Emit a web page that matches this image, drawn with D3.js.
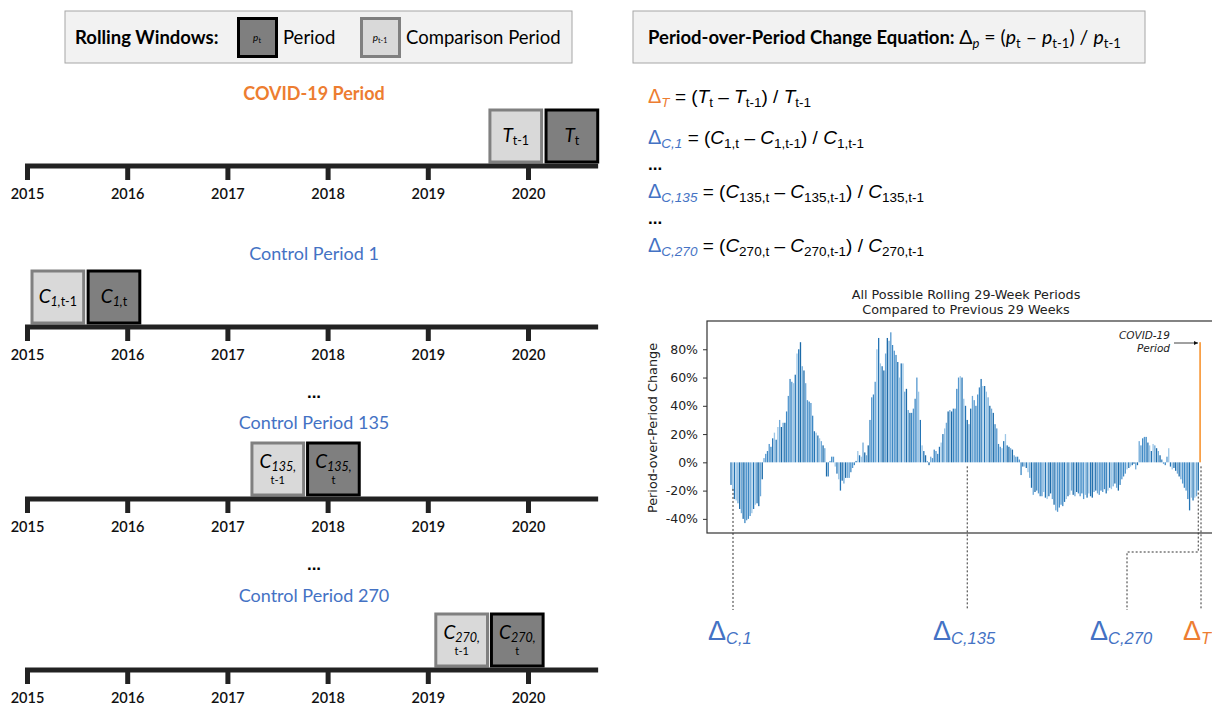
<!DOCTYPE html>
<html>
<head>
<meta charset="utf-8">
<script src="https://cdn.jsdelivr.net/npm/d3@7"></script>
<style>
body { margin: 0; background: #fff; }
svg { display: block; }
text { white-space: pre; }
</style>
</head>
<body>
<script>
// timeline panels
var years = [2015, 2016, 2017, 2018, 2019, 2020];
var panelTitles = ["COVID-19 Period", "Control Period 1", "Control Period 135", "Control Period 270"];
var compStarts = [2019.60, 2015.03, 2017.225, 2019.06];
var periodStarts = [2020.16, 2015.59, 2017.78, 2019.615];
var windowYears = 29 / 52.18;
var boxIdx = ["", "1,", "135,", "270,"];
var boxSym = ["T", "C", "C", "C"];

// period-over-period change (%), one per control period
var periodChange = [
  -16,-20,-26,-27,-29,-33,-36,-40,-43,-41,-40,-38,-36,-33,-30,-29,-31,-24,-12,
  3,
  6,8,13,11,17,21,16,25,30,25,28,28,36,47,59,57,56,62,77,80,85,68,65,56,44,43,42,33,22,21,19,17,15,12,10,
  -10,-10,1,4,4,-3,-8,-12,-20,-13,-15,-11,-11,-11,-7,-4,-2,1,8,5,4,14,7,5,12,30,
  46,48,57,80,88,70,68,65,77,88,86,92,83,79,76,71,60,70,70,50,52,37,35,35,38,45,60,50,30,12,8,5,1,-2,4,3,9,8,6,11,14,20,24,28,36,37,36,38,
  38,52,60,61,60,45,40,30,27,38,47,44,40,48,53,59,54,54,50,46,40,38,35,27,24,13,11,10,15,20,12,11,10,9,5,4,4,2,
  -9,-3,-3,-4,-7,-11,-18,-23,-21,-20,-22,-24,-24,-21,-25,-26,-24,-22,-26,-30,-34,-35,-32,-30,-31,-28,-26,-24,-23,-20,-23,-24,-21,-22,
  -24,-22,-26,-23,-25,-22,-24,-25,
  -21,-20,-22,-23,-20,-21,-19,-22,-20,
  -18,-19,-17,-15,-18,-20,
  -16,-12,-10,-8,-5,-4,-3,-2,
  -1,-5,-2,
  15,12,17,18,18,14,12,8,13,12,10,8,5,2,-1,-2,4,10,
  -3,-5,-4,-6,-8,-10,-12,-15,-18,-20,-26,-34,-25,-27,-25,-24,-20
];
var covidChange = 85;
var yTicks = [-40, -20, 0, 20, 40, 60, 80];
var markLabels = ["C,1", "C,135", "C,270", "T"];

var orange = "#ed7d31", blue = "#4472c4";
var blues = ["#2474b5", "#6fa9d8", "#3d88c4", "#9cc6e6", "#1c6aa8", "#5598cf"];
var calibri = "Lato, 'Open Sans', sans-serif";
var arial = "'Liberation Sans', Arial, sans-serif";
var dejavu = "'DejaVu Sans', sans-serif";

var svg = d3.select("body").append("svg").attr("width", 1212).attr("height", 708);

// text with subscript pieces
function rich(g, x, y, parts, anchor, family) {
  var t = g.append("text").attr("x", x).attr("y", y)
    .attr("text-anchor", anchor || "start").style("font-family", family);
  var shift = 0;
  parts.forEach(function (p) {
    var s = p.sh || 0;
    t.append("tspan").attr("dy", s - shift)
      .style("font-size", p.s + "px")
      .style("font-style", p.i ? "italic" : "normal")
      .style("font-weight", p.b ? "bold" : "normal")
      .style("fill", p.c || "#000")
      .text(p.t);
    shift = s;
  });
  return t;
}

// ---------- legend box
svg.append("rect").attr("x", 65).attr("y", 11).attr("width", 507).attr("height", 52)
  .attr("fill", "#f2f2f2").attr("stroke", "#a6a6a6");
rich(svg, 75, 44, [{t: "Rolling Windows:", s: 18.5, b: 1}], "start", calibri);
svg.append("rect").attr("x", 238.5).attr("y", 18.5).attr("width", 38).attr("height", 38)
  .attr("fill", "#7f7f7f").attr("stroke", "#000").attr("stroke-width", 3);
rich(svg, 257, 41, [{t: "p", s: 10, i: 1}, {t: "t", s: 7, sh: 1.5}], "middle", calibri);
rich(svg, 283, 44, [{t: "Period", s: 18.5}], "start", calibri);
svg.append("rect").attr("x", 361.5).attr("y", 18.5).attr("width", 38).attr("height", 38)
  .attr("fill", "#d9d9d9").attr("stroke", "#808080").attr("stroke-width", 3);
rich(svg, 380, 41, [{t: "p", s: 10, i: 1}, {t: "t-1", s: 7, sh: 1.5}], "middle", calibri);
rich(svg, 406, 44, [{t: "Comparison Period", s: 18.5}], "start", calibri);

// ---------- equation box
svg.append("rect").attr("x", 633).attr("y", 11).attr("width", 512).attr("height", 52)
  .attr("fill", "#f2f2f2").attr("stroke", "#a6a6a6");
rich(svg, 648, 44, [
  {t: "Period-over-Period Change Equation: ", s: 18.5, b: 1},
  {t: "Δ", s: 19.5}, {t: "p", s: 13, i: 1, sh: 4},
  {t: " = (", s: 19.5}, {t: "p", s: 19.5, i: 1}, {t: "t", s: 13, sh: 4},
  {t: " – ", s: 19.5}, {t: "p", s: 19.5, i: 1}, {t: "t-1", s: 13, sh: 4},
  {t: ") / ", s: 19.5}, {t: "p", s: 19.5, i: 1}, {t: "t-1", s: 13, sh: 4}
], "start", calibri);

// ---------- equations
var eqBase = [103, 144, 198, 252];
var eqCol = [orange, blue, blue, blue];
var eqSub = ["T", "C,1", "C,135", "C,270"];
eqBase.forEach(function (y, k) {
  var sym = boxSym[k], idx = boxIdx[k];
  rich(svg, 648, y, [
    {t: "Δ", s: 20, c: eqCol[k]}, {t: eqSub[k], s: 13.5, i: 1, c: eqCol[k], sh: 4},
    {t: " = (", s: 19}, {t: sym, s: 19, i: 1}, {t: idx + "t", s: 13.5, sh: 4},
    {t: " – ", s: 19}, {t: sym, s: 19, i: 1}, {t: idx + "t-1", s: 13.5, sh: 4},
    {t: ") / ", s: 19}, {t: sym, s: 19, i: 1}, {t: idx + "t-1", s: 13.5, sh: 4}
  ], "start", arial);
});
[170, 224].forEach(function (y) {
  rich(svg, 648, y, [{t: "...", s: 17, b: 1}], "start", arial);
});

// ---------- timelines
var xYear = d3.scaleLinear().domain([2015, 2020]).range([27, 528]);
var axisY = [166, 327, 499, 670];
var titleY = [100, 260, 429, 602];

axisY.forEach(function (ay, k) {
  var g = svg.append("g");
  rich(g, 314, titleY[k], [{t: panelTitles[k], s: 18, b: k === 0}], "middle", calibri)
    .select("tspan").style("fill", k === 0 ? orange : blue);

  var wins = [
    {start: compStarts[k], fill: "#d9d9d9", stroke: "#808080", sub: "t-1"},
    {start: periodStarts[k], fill: "#7f7f7f", stroke: "#000", sub: "t"}
  ];
  wins.forEach(function (w) {
    var x0 = xYear(w.start) + 2, x1 = xYear(w.start + windowYears) - 2;
    g.append("rect").attr("x", x0).attr("y", ay - 56).attr("width", x1 - x0).attr("height", 52)
      .attr("fill", w.fill).attr("stroke", w.stroke).attr("stroke-width", 3);
    var cx = (x0 + x1) / 2;
    if (k === 0) {
      rich(g, cx, ay - 24, [{t: "T", s: 19, i: 1}, {t: w.sub, s: 12.5, sh: 3}], "middle", calibri);
    } else if (k === 1) {
      rich(g, cx, ay - 24, [{t: "C", s: 19, i: 1}, {t: "1,", s: 12.5, i: 1, sh: 3}, {t: w.sub, s: 12.5, sh: 3}], "middle", calibri);
    } else {
      rich(g, cx, ay - 31, [{t: "C", s: 19, i: 1}, {t: boxIdx[k], s: 12.5, i: 1, sh: 3}], "middle", calibri);
      rich(g, cx, ay - 15, [{t: w.sub, s: 11}], "middle", calibri);
    }
  });

  g.append("line").attr("x1", xYear(2014.98)).attr("x2", xYear(2020.7))
    .attr("y1", ay).attr("y2", ay).attr("stroke", "#222").attr("stroke-width", 5);
  var ax = g.append("g").attr("transform", "translate(0," + ay + ")")
    .call(d3.axisBottom(xYear).tickValues(years).tickFormat(d3.format("d")).tickSize(14).tickPadding(9));
  ax.select(".domain").remove();
  ax.selectAll(".tick line").attr("stroke", "#222").attr("stroke-width", 5);
  ax.selectAll(".tick text").style("font-family", calibri).style("font-size", "14.5px")
    .style("font-weight", "600").attr("fill", "#111");
});
[398, 570].forEach(function (y) {
  rich(svg, 314, y, [{t: "...", s: 17, b: 1}], "middle", arial);
});

// ---------- bar chart
var x = d3.scaleLinear().domain([0, 270]).range([731, 1200]);
var y = d3.scaleLinear().domain([-50, 100]).range([533, 321]);
var bw = 1.3;
var chart = svg.append("g");

chart.selectAll("rect.bar").data(periodChange).enter().append("rect")
  .attr("class", "bar")
  .attr("x", function (d, i) { return x(i) - bw / 2; })
  .attr("y", function (d) { return y(Math.max(0, d)); })
  .attr("width", bw)
  .attr("height", function (d) { return Math.abs(y(d) - y(0)); })
  .attr("fill", function (d, i) { return blues[(i * 3 + (i >> 2)) % blues.length]; });

chart.append("rect").attr("x", x(270) - 0.8).attr("y", y(covidChange))
  .attr("width", 1.8).attr("height", y(0) - y(covidChange)).attr("fill", "#f8a048");

chart.append("rect").attr("x", 707).attr("y", 321).attr("width", 520).attr("height", 212)
  .attr("fill", "none").attr("stroke", "#333").attr("stroke-width", 1.2);

var yAx = chart.append("g").attr("transform", "translate(707,0)")
  .call(d3.axisLeft(y).tickValues(yTicks).tickFormat(function (d) { return d + "%"; }).tickSize(4).tickPadding(5));
yAx.select(".domain").remove();
yAx.selectAll(".tick text").style("font-family", dejavu).style("font-size", "12.5px").attr("fill", "#222");
yAx.selectAll(".tick line").attr("stroke", "#333");

chart.append("text").attr("transform", "translate(657,428) rotate(-90)")
  .attr("text-anchor", "middle").style("font-family", dejavu).style("font-size", "12.8px")
  .attr("fill", "#222").text("Period-over-Period Change");
chart.append("text").attr("x", 966).attr("y", 299).attr("text-anchor", "middle")
  .style("font-family", dejavu).style("font-size", "12.8px").attr("fill", "#222")
  .text("All Possible Rolling 29-Week Periods");
chart.append("text").attr("x", 966).attr("y", 314).attr("text-anchor", "middle")
  .style("font-family", dejavu).style("font-size", "12.8px").attr("fill", "#222")
  .text("Compared to Previous 29 Weeks");

// COVID annotation
chart.append("text").attr("x", 1170).attr("y", 339).attr("text-anchor", "end")
  .style("font-family", dejavu).style("font-size", "10.5px").style("font-style", "italic")
  .attr("fill", "#222").text("COVID-19");
chart.append("text").attr("x", 1170).attr("y", 352).attr("text-anchor", "end")
  .style("font-family", dejavu).style("font-size", "10.5px").style("font-style", "italic")
  .attr("fill", "#222").text("Period");
svg.append("defs").append("marker").attr("id", "ah").attr("viewBox", "0 0 10 10")
  .attr("refX", 10).attr("refY", 5).attr("markerWidth", 5).attr("markerHeight", 5)
  .attr("orient", "auto").append("path").attr("d", "M0,0L10,5L0,10z").attr("fill", "#111");
chart.append("line").attr("x1", 1174).attr("x2", x(270) - 2).attr("y1", 343).attr("y2", 343)
  .attr("stroke", "#111").attr("stroke-width", 0.8).attr("marker-end", "url(#ah)");

// dashed leaders and delta labels
var dash = "2,2";
var vals = periodChange.concat([covidChange]);
function leader(pts) {
  chart.append("path").attr("d", d3.line()(pts)).attr("fill", "none")
    .attr("stroke", "#333").attr("stroke-width", 1).attr("stroke-dasharray", dash);
}
leader([[x(0) + 2, y(Math.min(0, vals[0])) + 4], [x(0) + 2, 610]]);
leader([[x(136), y(0) + 4], [x(136), 610]]);
leader([[x(269), y(vals[269]) + 2], [x(269), 552], [1127, 552], [1127, 610]]);
leader([[x(270) + 1, y(0) + 4], [x(270) + 1, 610]]);

var labX = [708, 933, 1090, 1183];
markLabels.forEach(function (lab, k) {
  var c = k === 3 ? orange : blue;
  rich(svg, labX[k], 640, [{t: "Δ", s: 27, c: c}, {t: lab, s: 16.5, i: 1, c: c, sh: 4}], "start", arial);
});
</script>
</body>
</html>
